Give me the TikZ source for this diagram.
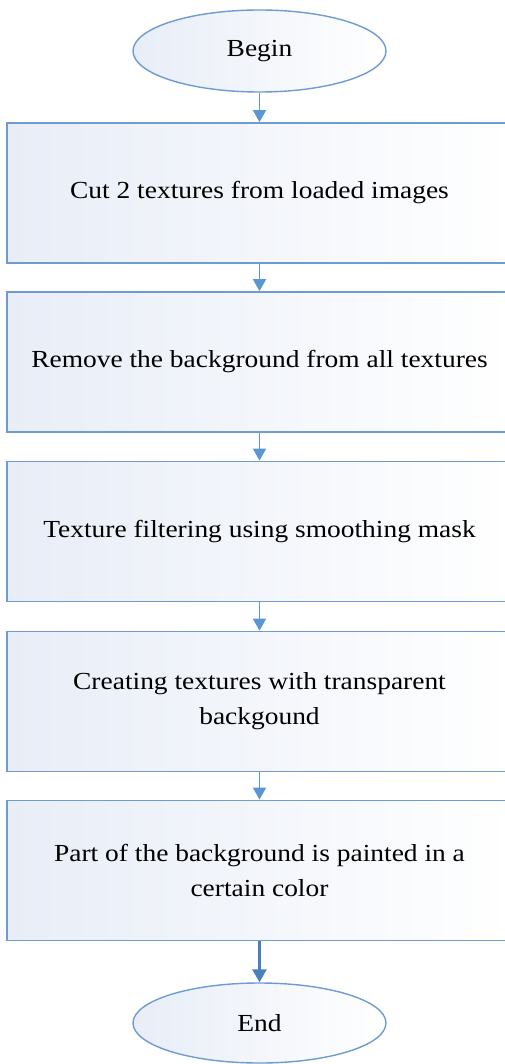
\documentclass[tikz,border=0pt]{standalone}
\usepackage{fontspec}
\setmainfont{Liberation Serif}[FakeStretch=1.12]
\usetikzlibrary{shapes.geometric,arrows.meta}
\definecolor{bord}{RGB}{110,155,210}
\definecolor{arrc}{RGB}{91,150,212}
\definecolor{arrd}{RGB}{72,128,190}
\definecolor{fillc}{RGB}{232,237,247}
\begin{document}
\begin{tikzpicture}[x=1pt,y=-1pt,
  every node/.style={font=\fontsize{24.5}{35}\selectfont},
  stepbox/.style={draw=bord,line width=1.8pt,rectangle,minimum width=505pt,minimum height=140pt,inner sep=0pt,left color=fillc,right color=white,align=center},
  term/.style={draw=bord,line width=1.4pt,ellipse,minimum width=253pt,minimum height=82pt,inner sep=0pt,left color=fillc,right color=white},
  arr/.style={draw=arrc,line width=1.8pt,-{Triangle[width=13pt,length=12pt]}},
  arrlast/.style={draw=arrd,line width=2.6pt,-{Triangle[width=14pt,length=13pt]}}]
\useasboundingbox (0,0) rectangle (505,1064);
\clip (0,0) rectangle (505,1064);
\node[term] (begin) at (259.5,51) {Begin};
\node[stepbox] (s1) at (259.5,193) {Cut 2 textures from loaded images};
\node[stepbox] (s2) at (259.5,362) {Remove the background from all textures};
\node[stepbox] (s3) at (259.5,531.5) {Texture filtering using smoothing mask};
\node[stepbox] (s4) at (259.5,701.5) {Creating textures with transparent\\backgound};
\node[stepbox] (s5) at (259.5,870.5) {Part of the background is painted in a\\certain color};
\node[term,minimum height=80pt] (end) at (259.5,1023) {End};
\draw[arr] (begin) -- (s1);
\draw[arr] (s1) -- (s2);
\draw[arr] (s2) -- (s3);
\draw[arr] (s3) -- (s4);
\draw[arr] (s4) -- (s5);
\draw[arrlast] (s5) -- (end);
\end{tikzpicture}
\end{document}
